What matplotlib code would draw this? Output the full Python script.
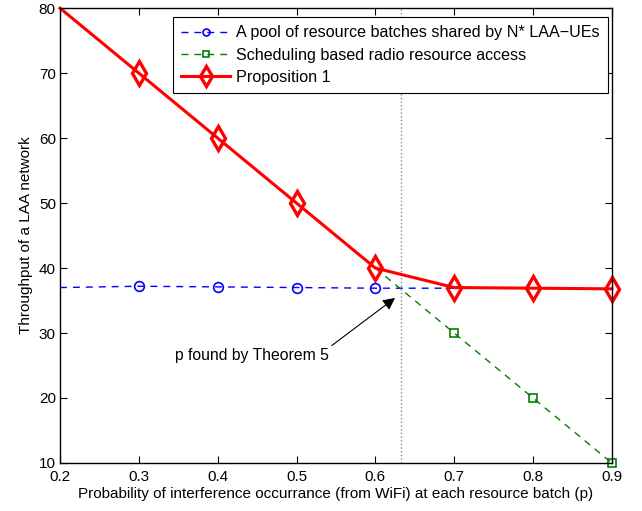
import numpy as np
import matplotlib.pyplot as plt

plt.rcParams['font.family'] = ['Liberation Sans', 'DejaVu Sans']

# data
p = [0.2, 0.3, 0.4, 0.5, 0.6, 0.7, 0.8, 0.9]
pool_p = [0.2, 0.3, 0.4, 0.5, 0.6, 0.7]
pool_thr = [37.0, 37.2, 37.1, 37.0, 36.9, 36.9]
sched_p = [0.6, 0.7, 0.8, 0.9]
sched_thr = [40, 30, 20, 10]
prop_thr = [80, 70, 60, 50, 40, 37.0, 36.9, 36.8]
p_star = 0.633

fig = plt.figure(figsize=(6.42, 5.11), dpi=100)
ax = fig.add_axes([0.0935, 0.094, 0.8595, 0.890])

ax.axvline(p_star, color='#888888', linestyle=':', linewidth=1)

ax.plot(pool_p, pool_thr, color='#0000ff', linestyle=(0, (5, 4.3)), linewidth=1,
        marker='o', markersize=7, markerfacecolor='none', markeredgewidth=1.2,
        markevery=[1, 2, 3, 4], label='A pool of resource batches shared by N* LAA\u2212UEs')
ax.plot(sched_p, sched_thr, color='#008000', linestyle=(0, (5, 4.3)), linewidth=1,
        marker='s', markersize=6, markerfacecolor='none', markeredgewidth=1.2,
        markevery=[1, 2, 3], label='Scheduling based radio resource access', clip_on=False)
ax.plot(p, prop_thr, color='#ff0000', linestyle='-', linewidth=2.2,
        marker='d', markersize=12, markerfacecolor='none', markeredgewidth=2.4,
        markevery=list(range(1, 8)), label='Proposition 1', clip_on=False)

ax.annotate('p found by Theorem 5', xy=(0.625, 35.4), xytext=(0.346, 26.6),
            fontsize=11.3, va='center', ha='left',
            arrowprops=dict(arrowstyle='-|>', color='black', lw=0.8,
                            mutation_scale=18, shrinkA=0, shrinkB=0,
                            relpos=(1.0, 1.0)))

ax.set_xlim(0.2, 0.9)
ax.set_ylim(10, 80)
ax.set_xticks([0.2, 0.3, 0.4, 0.5, 0.6, 0.7, 0.8, 0.9])
ax.set_yticks([10, 20, 30, 40, 50, 60, 70, 80])
ax.tick_params(direction='in', top=True, right=True, labelsize=11, length=5)
ax.tick_params(axis='x', pad=5)
ax.tick_params(axis='y', pad=3)
for s in ax.spines.values():
    s.set_linewidth(1)
ax.set_xlabel('Probability of interference occurrance (from WiFi) at each resource batch (p)',
              fontsize=11, labelpad=2)
ax.set_ylabel('Throughput of a LAA network', fontsize=11, labelpad=4)

leg = ax.legend(loc='upper right', bbox_to_anchor=(0.9928, 0.980), borderaxespad=0,
                fontsize=11.6, handlelength=3.0, fancybox=False,
                framealpha=1, edgecolor='black', borderpad=0.5, labelspacing=0.45,
                handletextpad=0.4)
leg.get_frame().set_linewidth(0.8)
for h, ms in zip(leg.legend_handles, [5, 5, 10]):
    h.set_markersize(ms)

fig.savefig('out.png', dpi=100)
